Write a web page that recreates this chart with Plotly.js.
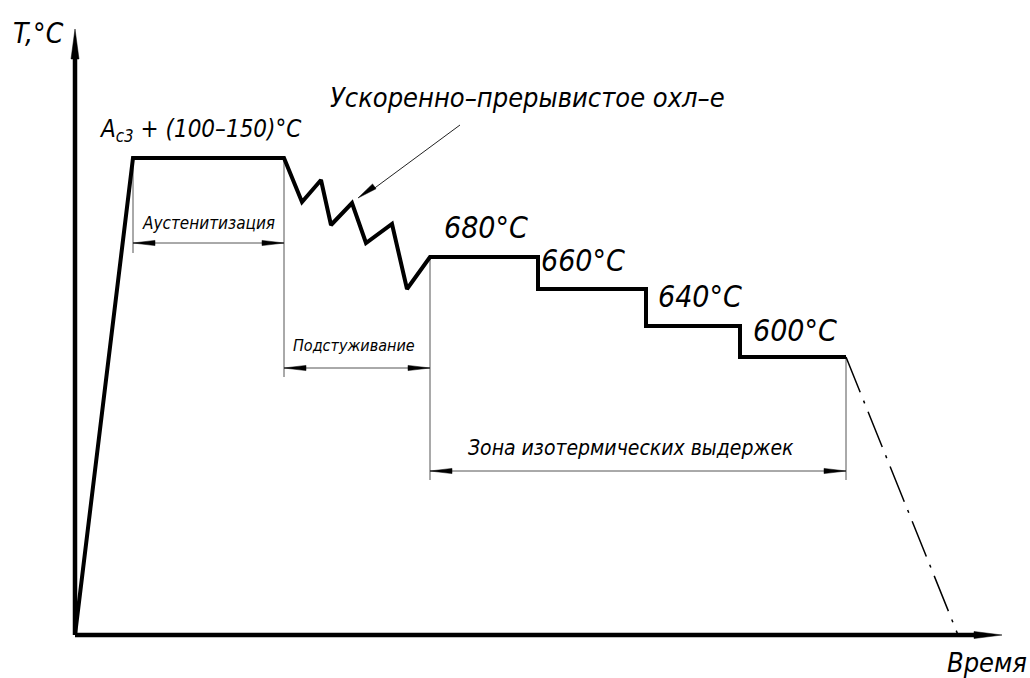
<!DOCTYPE html>
<html>
<head>
<meta charset="utf-8">
<script src="https://cdn.plot.ly/plotly-3.0.1.min.js"></script>
<style>
  html, body { margin: 0; padding: 0; background: #fff; }
  #chart { width: 1030px; height: 678px; }
</style>
</head>
<body>
<div id="chart"></div>
<script>
// schematic heat-treatment cycle, units (time, temperature)
const time = [75, 133, 284, 302, 321, 331, 352, 366, 392, 407, 430, 538, 538, 646, 646, 740, 740, 846];
const temp = [43, 520, 520, 476, 498, 453, 475, 435, 454, 389, 421, 421, 389, 389, 352, 352, 321, 321];

// final cooling (dash-dot)
const coolTime = [846, 958];
const coolTemp = [321, 43];

// hold labels
const holdLabels = ["680°C", "660°C", "640°C", "600°C"];

const font = "DejaVu Sans Condensed, Liberation Sans Narrow, sans-serif";
const thin = "#555";

const traces = [];

function line(x, y, w, color, dash) {
  traces.push({x: x, y: y, mode: "lines", hoverinfo: "skip",
    line: {color: color || "#000", width: w, dash: dash || "solid"}});
}

// filled arrow head, tip at (x, y), pointing along (dx, dy)
function head(x, y, dx, dy, len, hw, color) {
  const n = Math.hypot(dx, dy); dx /= n; dy /= n;
  const bx = x - dx * len, by = y - dy * len;
  traces.push({
    x: [x, bx - dy * hw, bx + dy * hw, x],
    y: [y, by + dx * hw, by - dx * hw, y],
    mode: "lines", fill: "toself", fillcolor: color || "#000",
    line: {color: color || "#000", width: 0.5}, hoverinfo: "skip"
  });
}

// dimension line between two times at a given level
function dim(t1, t2, level) {
  line([t1, t2], [level, level], 1, thin);
  head(t1, level, -1, 0, 22, 2.6);
  head(t2, level, 1, 0, 22, 2.6);
}

// axes
const x0 = time[0], y0 = temp[0];
line([x0, x0], [y0, 625], 4.5);
head(x0, 649, 0, 1, 30, 4);
line([x0, 980], [y0, y0], 4.5);
head(1002, y0, 1, 0, 28, 3.5);

// extension lines
line([time[1], time[1]], [temp[1], 425], 1, thin);
line([time[2], time[2]], [temp[2], 301], 1, thin);
line([time[10], time[10]], [temp[10], 198], 1, thin);
line([time[17], time[17]], [temp[17], 198], 1, thin);

// dimensions
dim(time[1], time[2], 435);
dim(time[2], time[10], 310);
dim(time[10], time[17], 207);

// main curve
traces.push({x: time, y: temp, mode: "lines", hoverinfo: "skip",
  line: {color: "#000", width: 4, shape: "linear"}});

// cooling
line(coolTime, coolTemp, 1.5, "#000", "38px,9px,3px,9px");

// leader arrow to the zigzag
line([460, 372], [553, 488], 1, "#222");
head(time[6] + 6, temp[6] + 5, -102, -73, 20, 3);

function txt(x, y, s, size, anchor) {
  return {x: x, y: y, xref: "x", yref: "y", text: "<i>" + s + "</i>", showarrow: false,
    xanchor: anchor || "center", yanchor: "middle", font: {family: font, size: size, color: "#000"}};
}

const holdPos = [[486, 451], [583, 418], [700, 382], [795, 348]];
const annotations = [
  txt(38, 645, "T,°C", 28),
  txt(1029, 16, "Время", 27, "right"),
  txt(200, 548, "A<sub>c3</sub> + (100–150)°C", 24),
  txt(527, 581, "Ускоренно–прерывистое охл–е", 27),
  txt(208, 455, "Аустенитизация", 17),
  txt(354, 333, "Подстуживание", 16),
  txt(631, 230, "Зона изотермических выдержек", 21)
];
holdLabels.forEach((s, i) => annotations.push(txt(holdPos[i][0], holdPos[i][1], s, 30)));

const layout = {
  width: 1030, height: 678,
  margin: {l: 0, r: 0, t: 0, b: 0},
  paper_bgcolor: "#fff", plot_bgcolor: "#fff",
  showlegend: false,
  xaxis: {range: [0, 1030], visible: false, fixedrange: true},
  yaxis: {range: [0, 678], visible: false, fixedrange: true},
  annotations: annotations
};

Plotly.newPlot("chart", traces, layout, {displayModeBar: false, staticPlot: true});
</script>
</body>
</html>
